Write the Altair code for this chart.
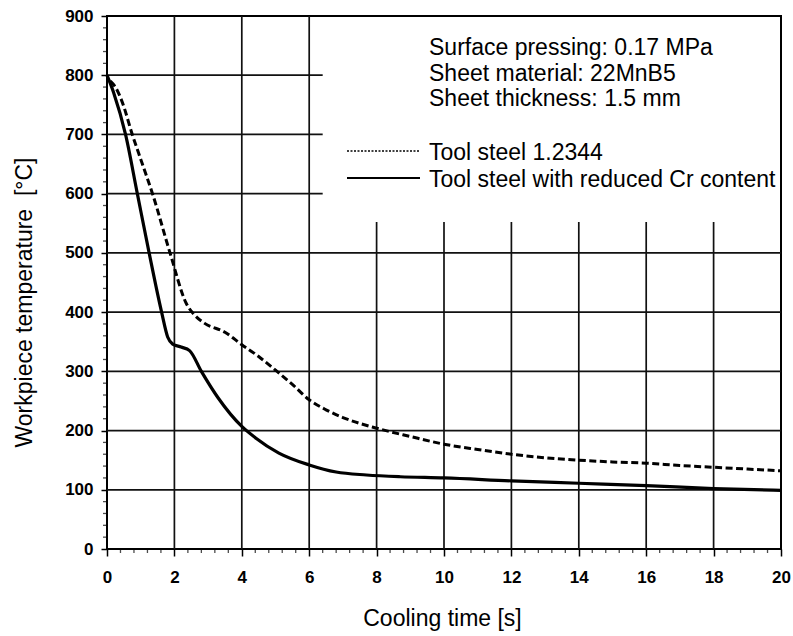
import altair as alt
import pandas as pd

# ---- data ----
dashed_t = [0.1, 0.25, 0.45, 0.75, 1.05, 1.35, 1.87, 2.35, 2.6, 2.9, 3.5, 4.0, 4.5, 5.0, 5.5, 6.0,
            6.5, 7.0, 8.0, 9.0, 10, 11, 12, 13, 14, 15, 16, 17, 18, 19, 20]
dashed_T = [790, 780, 755, 700, 650, 600, 500, 415, 395, 381, 366, 345, 325, 302, 278, 252,
            235, 222, 204, 190, 177, 168, 160, 154, 150, 147, 145, 141, 138, 135, 132]

solid_t = [0, 0.2, 0.55, 0.9, 1.25, 1.62, 1.8, 1.95, 2.2, 2.45, 2.8, 3.3, 4.0, 4.4, 5.1,
           6.0, 6.8, 7.7, 8.7, 10, 12, 14, 16, 18, 20]
solid_T = [800, 770, 700, 600, 500, 400, 358, 346, 341, 335, 300, 255, 207, 188, 162,
           142, 130, 125, 122, 120, 115, 111, 107, 102, 99]

series_names = ["Tool steel 1.2344", "Tool steel with reduced Cr content"]
info_lines = ["Surface pressing: 0.17 MPa", "Sheet material: 22MnB5", "Sheet thickness: 1.5 mm"]

x_ticks = list(range(0, 21, 2))
y_ticks = list(range(0, 901, 100))
x_minor = [round(i * 0.4, 1) for i in range(1, 50) if i % 5 != 0]
y_minor = [v for v in range(20, 900, 20) if v % 100 != 0]

# grid: lines hidden behind the annotation box (upper right)
grid_x_full = [2, 4, 6]
grid_x_short = [8, 10, 12, 14, 16, 18]
grid_y_full = [100, 200, 300, 400, 500]
grid_y_short = [600, 700, 800]
box_left_x = 6.4
box_bottom_y = 552

FONT = "Liberation Sans"
W, H = 674, 533

xs = alt.Scale(domain=[0, 20], nice=False, zero=False)
ys = alt.Scale(domain=[0, 900], nice=False)

xaxis = alt.Axis(values=x_ticks, grid=False, domain=False, tickSize=7, tickWidth=1.5,
                 tickColor="black", labelFont=FONT, labelFontSize=17, labelFontWeight="bold",
                 labelColor="black", labelPadding=13, labelFlush=False,
                 title="Cooling time [s]", titleFont=FONT, titleFontSize=23,
                 titleFontWeight="normal", titleColor="black", titleX=335, titleY=76,
                 titleAlign="center", titleBaseline="alphabetic")
yaxis = alt.Axis(values=y_ticks, grid=False, domain=False, tickSize=6, tickWidth=1.5,
                 tickColor="black", labelFont=FONT, labelFontSize=17, labelFontWeight="bold",
                 labelColor="black", labelPadding=8, labelFlush=False,
                 title="Workpiece temperature \u00a0[°C]", titleFont=FONT, titleFontSize=23,
                 titleFontWeight="normal", titleColor="black", titleAngle=270, titleX=-76,
                 titleY=286, titleAlign="center", titleBaseline="alphabetic")


def X(field, **kw):
    return alt.X(field, type="quantitative", scale=xs, axis=xaxis, **kw)


def Y(field, **kw):
    return alt.Y(field, type="quantitative", scale=ys, axis=yaxis, **kw)


dashed_df = pd.DataFrame({"t": dashed_t, "T": dashed_T})
solid_df = pd.DataFrame({"t": solid_t, "T": solid_T})

vgrid = pd.DataFrame({
    "t": grid_x_full + grid_x_short,
    "y0": [0] * (len(grid_x_full) + len(grid_x_short)),
    "y1": [900] * len(grid_x_full) + [box_bottom_y] * len(grid_x_short),
})
hgrid = pd.DataFrame({
    "T": grid_y_full + grid_y_short,
    "x0": [0] * (len(grid_y_full) + len(grid_y_short)),
    "x1": [20] * len(grid_y_full) + [box_left_x] * len(grid_y_short),
})

vrules = alt.Chart(vgrid).mark_rule(color="#111", strokeWidth=1.7).encode(
    x=X("t"), y=Y("y0"), y2="y1")
hrules = alt.Chart(hgrid).mark_rule(color="#111", strokeWidth=1.7).encode(
    y=Y("T"), x=X("x0"), x2="x1")

yminor = alt.Chart(pd.DataFrame({"T": y_minor})).mark_tick(
    color="black", size=4, thickness=1.3, orient="horizontal").encode(
    y=Y("T"), x=alt.value(-2))
xminor = alt.Chart(pd.DataFrame({"t": x_minor})).mark_tick(
    color="black", size=4, thickness=1.3, orient="vertical").encode(
    x=X("t"), y=alt.value(H + 2))

dashed = alt.Chart(dashed_df).mark_line(color="black", strokeWidth=3, strokeDash=[7, 3.5],
                                        interpolate="monotone").encode(x=X("t"), y=Y("T"))
solid = alt.Chart(solid_df).mark_line(color="black", strokeWidth=3.2,
                                      interpolate="monotone").encode(x=X("t"), y=Y("T"))

layers = [vrules, hrules, yminor, xminor, dashed, solid]

# annotation text block
for i, line in enumerate(info_lines):
    layers.append(
        alt.Chart(pd.DataFrame({"s": [line]})).mark_text(
            font=FONT, fontSize=23, color="black", align="left", baseline="alphabetic").encode(
            text="s", x=alt.value(322), y=alt.value(39 + i * 25.5)))

# legend
leg_y = [135, 162]
leg_styles = [dict(strokeDash=[2, 1.5], strokeWidth=1.6), dict(strokeWidth=1.8)]
for i, name in enumerate(series_names):
    layers.append(
        alt.Chart(pd.DataFrame({"s": [name]})).mark_rule(color="black", **leg_styles[i]).encode(
            x=alt.value(240), x2=alt.value(313), y=alt.value(leg_y[i])))
    layers.append(
        alt.Chart(pd.DataFrame({"s": [name]})).mark_text(
            font=FONT, fontSize=23, color="black", align="left", baseline="alphabetic").encode(
            text="s", x=alt.value(322), y=alt.value(leg_y[i] + 9)))

chart = alt.layer(*layers).properties(
    width=W, height=H,
    autosize=alt.AutoSizeParams(type="none"),
    padding={"left": 107, "top": 16, "right": 12, "bottom": 87},
    background="white",
).configure_view(stroke="black", strokeWidth=2)

chart.save("out.html", embed_options={"renderer": "svg", "actions": False})
